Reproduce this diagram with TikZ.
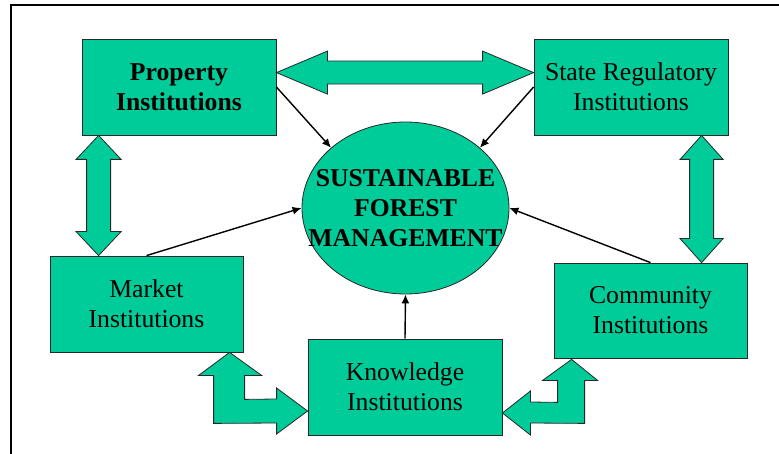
\documentclass[tikz,border=0pt]{standalone}
\usepackage{fontspec}
\setmainfont{Liberation Serif}
\usetikzlibrary{shapes.geometric,arrows.meta,calc}
\definecolor{boxgreen}{RGB}{0,204,153}
\definecolor{edgegray}{RGB}{40,40,40}
\begin{document}
\begin{tikzpicture}[x=1pt,y=-1pt,
  inst/.style={rectangle, draw=edgegray, line width=0.8pt, fill=boxgreen, inner sep=0pt,
    align=center, font=\fontsize{25.7}{30}\selectfont},
  instbold/.style={inst, font=\fontsize{25.7}{30}\selectfont\bfseries},
  blockarrow/.style={draw=edgegray, line width=0.8pt, fill=boxgreen, line join=miter},
  link/.style={line width=1.4pt, -{Latex[length=9pt,width=8pt]}}]
\useasboundingbox (0,0) rectangle (779,454);
% frame
\draw[line width=2.2pt, line join=miter] (779,5) -- (11,5) -- (11,454);
% boxes
\node[instbold, minimum width=194pt, minimum height=96pt] (prop) at (179,87) {Property\\Institutions};
\node[inst, minimum width=194pt, minimum height=96pt] (state) at (631,87) {State Regulatory\\Institutions};
\node[inst, minimum width=193pt, minimum height=96pt] (market) at (146.5,304) {Market\\Institutions};
\node[inst, minimum width=194pt, minimum height=96pt] (know) at (405,387) {Knowledge\\Institutions};
\node[inst, minimum width=193pt, minimum height=95pt] (comm) at (650.5,310.5) {Community\\Institutions};
% central ellipse
\node[ellipse, draw=edgegray, line width=0.8pt, fill=boxgreen, minimum width=207pt,
  minimum height=172pt, inner sep=0pt] (sfm) at (405.5,208) {};
\node[align=center, inner sep=0pt, font=\fontsize{25.7}{30}\selectfont\bfseries] (sfmtext) at (sfm.center) {SUSTAINABLE\\FOREST\\MANAGEMENT};
% horizontal double arrow
\coordinate (hA) at ($(prop.north east)+(0,34)$);
\coordinate (hB) at ($(state.north west)+(0,34)$);
\draw[blockarrow] (hA) -- ($(hA)+(51,-21.5)$) -- ($(hA)+(51,-11.5)$) -- ($(hB)+(-51,-11.5)$)
  -- ($(hB)+(-51,-21.5)$) -- (hB) -- ($(hB)+(-51,21.5)$) -- ($(hB)+(-51,11.5)$)
  -- ($(hA)+(51,11.5)$) -- ($(hA)+(51,21.5)$) -- cycle;
% left vertical double arrow
\coordinate (vT) at ($(prop.south west)+(17,0)$);
\coordinate (vB) at ($(market.north west)+(49,0)$);
\draw[blockarrow] (vT) -- ($(vT)+(22.5,24)$) -- ($(vT)+(12,24)$) -- ($(vB)+(12,-24)$)
  -- ($(vB)+(22.5,-24)$) -- (vB) -- ($(vB)+(-22.5,-24)$) -- ($(vB)+(-12,-24)$)
  -- ($(vT)+(-12,24)$) -- ($(vT)+(-22.5,24)$) -- cycle;
% right vertical double arrow
\coordinate (wT) at ($(state.south west)+(168,0)$);
\coordinate (wB) at ($(comm.north west)+(148,0)$);
\draw[blockarrow] (wT) -- ($(wT)+(21.5,24)$) -- ($(wT)+(12,24)$) -- ($(wB)+(12,-24)$)
  -- ($(wB)+(21.5,-24)$) -- (wB) -- ($(wB)+(-21.5,-24)$) -- ($(wB)+(-12,-24)$)
  -- ($(wT)+(-12,24)$) -- ($(wT)+(-21.5,24)$) -- cycle;
% left bent double arrow (market - knowledge)
\coordinate (U) at ($(market.south west)+(180,0)$);
\coordinate (R) at ($(know.west)+(0,24)$);
\draw[blockarrow] (U) -- ($(U)+(32,23)$) -- ($(U)+(15,23)$) -- ($(U)+(15,47)$)
  -- ($(R)+(-31,-12)$) -- ($(R)+(-31,-23)$) -- (R) -- ($(R)+(-31,23)$) -- ($(R)+(-31,12)$)
  -- ($(U)+(-16,71)$) -- ($(U)+(-16,23)$) -- ($(U)+(-31,23)$) -- cycle;
% right bent double arrow (community - knowledge)
\coordinate (U2) at ($(comm.south west)+(18,1)$);
\coordinate (L2) at ($(know.east)+(0,26)$);
\draw[blockarrow] (U2) -- ($(U2)+(26,21)$) -- ($(U2)+(13,21)$) -- ($(U2)+(13,64)$)
  -- ($(L2)+(28,10)$) -- ($(L2)+(28,22)$) -- (L2) -- ($(L2)+(28,-22)$) -- ($(L2)+(28,-11)$)
  -- ($(U2)+(-14,43)$) -- ($(U2)+(-14,21)$) -- ($(U2)+(-29,21)$) -- cycle;
% thin arrows to the centre
\draw[link] (prop.east) -- (sfm.141);
\draw[link] (state.west) -- (sfm.39);
\draw[link] (market.north) -- (sfm.west);
\draw[link] (comm.north) -- (sfm.east);
\draw[link] (know.north) -- (sfm.south);
\end{tikzpicture}
\end{document}
